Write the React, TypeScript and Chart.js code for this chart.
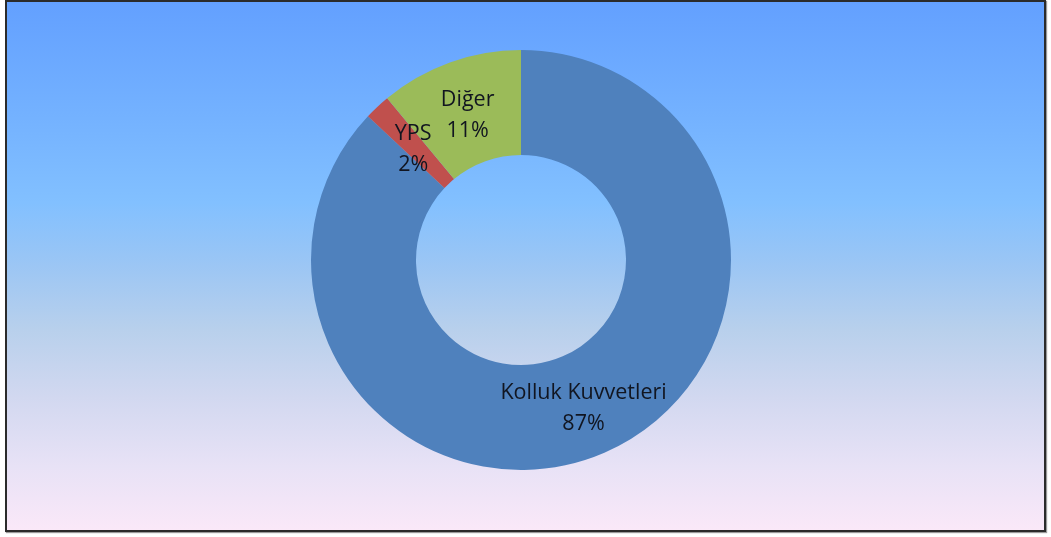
import React, { useEffect, useRef } from "react";
import { Chart, registerables } from "chart.js";

Chart.register(...registerables);

const categories = ["Kolluk Kuvvetleri", "YPS", "Diğer"];
const values = [87, 2, 11];
const percentLabels = ["87%", "2%", "11%"];
const colors = ["#4F81BD", "#C0504D", "#9BBB59"];

const labelPlugin = {
  id: "sliceLabels",
  afterDatasetsDraw(chart: any) {
    const ctx = chart.ctx;
    const meta = chart.getDatasetMeta(0);
    ctx.save();
    ctx.font = "21.5px 'Open Sans', sans-serif";
    ctx.fillStyle = "#111520";
    ctx.textAlign = "center";
    ctx.textBaseline = "middle";
    meta.data.forEach((arc: any, i: number) => {
      const p = arc.tooltipPosition();
      const lh = 31;
      const cy = p.y + 4;
      ctx.fillText(categories[i], p.x, cy - lh / 2);
      ctx.fillText(percentLabels[i], p.x, cy + lh / 2);
    });
    ctx.restore();
  },
};

export default function App() {
  const ref = useRef<HTMLCanvasElement>(null);
  useEffect(() => {
    document.body.style.margin = "0";
    const chart = new Chart(ref.current as HTMLCanvasElement, {
      type: "doughnut",
      data: {
        labels: categories,
        datasets: [
          {
            data: values,
            backgroundColor: colors,
            borderWidth: 0,
          },
        ],
      },
      options: {
        animation: false,
        responsive: false,
        cutout: "50%",
        layout: { padding: { top: 48, bottom: 60, left: 0, right: 9 } },
        plugins: {
          legend: { display: false },
          tooltip: { enabled: false },
        },
      },
      plugins: [labelPlugin],
    });
    return () => chart.destroy();
  }, []);

  return (
    <div style={{ position: "relative", width: 1051, height: 537, background: "#ffffff" }}>
      <div
        style={{
          position: "absolute",
          left: 5,
          top: 0,
          width: 1037,
          height: 528,
          border: "2px solid #2b2b2b",
          boxShadow: "1px 1px 1px #9a9a9a",
          background:
            "linear-gradient(to bottom, #63A0FF 0%, #74B2FF 22%, #82C0FF 38%, #9CC6F4 50%, #B8D0EC 62%, #D2D8F0 75%, #E8E2F6 88%, #FAE8F8 100%)",
        }}
      >
        <canvas ref={ref} width={1037} height={528} style={{ display: "block" }} />
      </div>
    </div>
  );
}
